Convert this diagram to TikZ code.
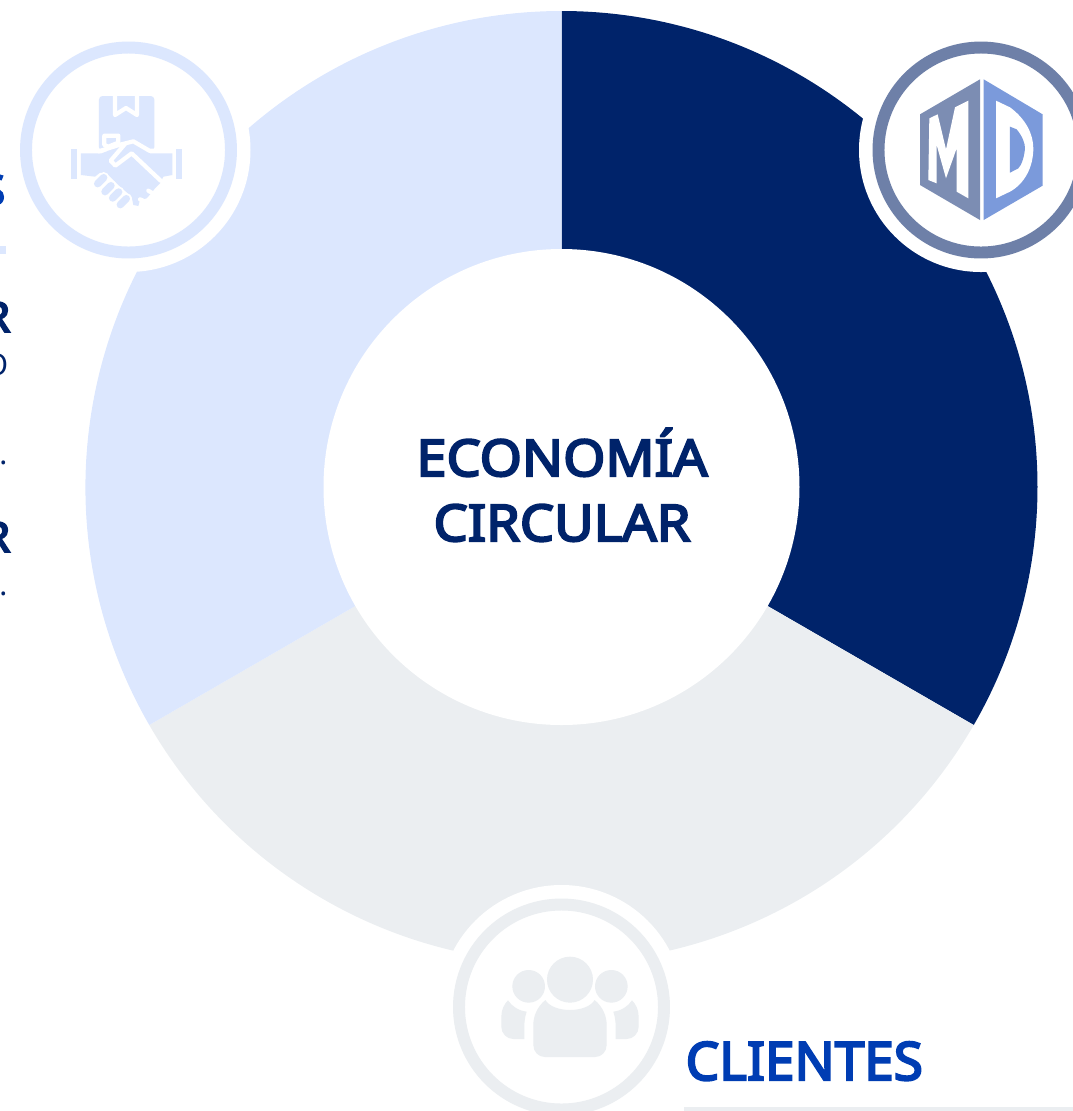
\documentclass[tikz,border=0pt]{standalone}
\usepackage{fontspec}
\setmainfont{Noto Sans}[BoldFont={Noto Sans},BoldFeatures={FakeBold=4.2,FakeStretch=1.07}]
\usepackage{xcolor}
\definecolor{navyseg}{HTML}{00236A}
\definecolor{lightseg}{HTML}{DCE7FE}
\definecolor{greyseg}{HTML}{EBEEF1}
\definecolor{ringmd}{HTML}{6E80A8}
\definecolor{hexleft}{HTML}{7C8DB3}
\definecolor{hexright}{HTML}{7B9ADB}
\definecolor{clientblue}{HTML}{003DB3}
\tikzset{
  ring/.style={line width=3.4pt, fill=white},
  titletext/.style={font=\fontsize{14.4}{16}\selectfont\bfseries, text=navyseg, inner sep=0pt, anchor=base},
  sidetext/.style={font=\fontsize{12}{14}\selectfont\bfseries, inner sep=0pt, anchor=base east},
  smalltext/.style={font=\fontsize{8.5}{10}\selectfont, text=navyseg, inner sep=0pt, anchor=base east},
  cutline/.style={white, line width=1.2pt, line join=round, line cap=round}
}
\begin{document}
\begin{tikzpicture}[x=0.01cm,y=-0.01cm]

\useasboundingbox (0,0) rectangle (1073,1111);
\clip (0,0) rectangle (1073,1111);

% segments
{
\fill[navyseg] (561.5,487) -- ++(-90:476) arc (-90:30:476) -- cycle;
\fill[greyseg] (561.5,487) -- ++(30:476) arc (30:150:476) -- cycle;
\fill[lightseg] (561.5,487) -- ++(150:476) arc (150:270:476) -- cycle;
\fill[white] (561.5,487) circle [radius=238];
}

% rings
{
\fill[white] (128.5,150) circle [radius=122];
\fill[white] (981,150) circle [radius=122];
\fill[white] (561.5,1007) circle [radius=122];

\draw[ring, draw=lightseg] (128.5,150) circle [radius=102.5];
\draw[ring, draw=ringmd] (981,150) circle [radius=102.5];
\draw[ring, draw=greyseg] (561.5,1007) circle [radius=102.5];
}

% handshake
\begin{scope}[shift={(0,20)},scale=1/3]
\fill[lightseg, rounded corners=1pt] (297,228) rectangle (463,392);
\draw[cutline] (345,222) -- (345,285) -- (378,264) -- (411,285) -- (411,222);
\fill[lightseg] (213,387) rectangle (232,476);
\fill[lightseg] (528,387) rectangle (547,476);
\fill[lightseg] (243,400) -- (305,400) -- (360,378) -- (400,368) -- (450,400) -- (517,400) -- (517,465) -- (490,470) -- (480,490) -- (465,505) -- (455,518) -- (440,535) -- (420,540) -- (415,558) -- (400,555) -- (395,530) -- (355,495) -- (325,465) -- (300,458) -- (285,470) -- (243,465) -- cycle;
\draw[cutline] (296,394) -- (360,374) -- (400,364) -- (448,392) -- (465,392);
\draw[cutline] (375,372) -- (332,422) -- (346,437) -- (395,400) -- (482,482);
\fill[lightseg, draw=white, line width=1.2pt, line join=round] (313,347) -- (355,347) -- (355,368) -- (325,380) -- (313,375) -- cycle;
\foreach \fx/\fy in {302/482,324/506,347/525,370/545}
{
  \draw[white, line width=3.2pt, line cap=round] (\fx-9,\fy+9) -- (\fx+9,\fy-9);
  \draw[lightseg, line width=2.1pt, line cap=round] (\fx-9,\fy+9) -- (\fx+9,\fy-9);
}
\draw[cutline] (420,538) -- (436,545);
\draw[cutline] (445,512) -- (458,520);
\end{scope}

% logo
\begin{scope}[shift={(840,20)},scale=1/3]
\fill[hexleft] (240,283) -- (420,178) -- (420,600) -- (240,495) -- cycle;
\fill[hexright] (431,178) -- (608,283) -- (608,497) -- (431,600) -- cycle;
\fill[white] (265,480) -- (268,295) -- (293,283) -- (318,388) -- (345,262) -- (385,242) -- (385,535) -- (350,515) -- (350,385) -- (318,475) -- (290,375) -- (290,490) -- cycle;
\fill[white] (468,242) -- (510,262) .. controls (555,295) and (580,340) .. (580,385) .. controls (580,440) and (555,490) .. (510,515) -- (468,535) -- cycle;
\fill[hexright] (510,320) -- (530,328) .. controls (548,350) and (555,370) .. (555,385) .. controls (553,410) and (545,435) .. (535,445) -- (510,458) -- cycle;
\end{scope}

% clients
\begin{scope}[shift={(440,870)},scale=1/3]
\fill[greyseg] (390,329) circle [radius=69];
\fill[greyseg] (266,349) circle [radius=49];
\fill[greyseg] (514,349) circle [radius=49];
\fill[greyseg] (316,390) .. controls (340,430) and (440,430) .. (464,390) .. controls (490,412) and (500,440) .. (500,465) -- (500,525) .. controls (500,545) and (485,561) .. (465,561) -- (315,561) .. controls (295,561) and (280,545) .. (280,525) -- (280,465) .. controls (280,440) and (290,412) .. (316,390) -- cycle;
\fill[greyseg] (204,391) .. controls (215,408) and (235,422) .. (260,425) .. controls (255,440) and (253,455) .. (253,470) -- (253,507) -- (220,507) .. controls (200,507) and (184,490) .. (184,470) -- (184,440) .. controls (184,420) and (192,403) .. (204,391) -- cycle;
\fill[greyseg] (576,391) .. controls (565,408) and (545,422) .. (520,425) .. controls (525,440) and (527,455) .. (527,470) -- (527,507) -- (560,507) .. controls (580,507) and (596,490) .. (596,470) -- (596,440) .. controls (596,420) and (588,403) .. (576,391) -- cycle;
\end{scope}

% nodes
{
\node[titletext] (economia) at (562,476) {ECONOMÍA};
\node[titletext] (circular) at (562,541) {CIRCULAR};
\node[titletext, anchor=base west, text=clientblue, font=\fontsize{15}{17}\selectfont\bfseries, xscale=0.94] (clientes) at (685,1080) {CLIENTES};

\node[sidetext, text=clientblue] (sideS) at (6,205) {S};
\node[sidetext, text=navyseg] (sideRa) at (11,332) {R};
\node[smalltext] (sideO) at (9,375) {O};
\node[smalltext] (sideDa) at (8,464) {.};
\node[sidetext, text=navyseg] (sideRb) at (11,552) {R};
\node[smalltext] (sideDb) at (8,595) {.};
}

% bars
\fill[lightseg] (0,246) rectangle (6,254);
\fill[greyseg] (684,1107) rectangle (1073,1111);

\end{tikzpicture}
\end{document}
